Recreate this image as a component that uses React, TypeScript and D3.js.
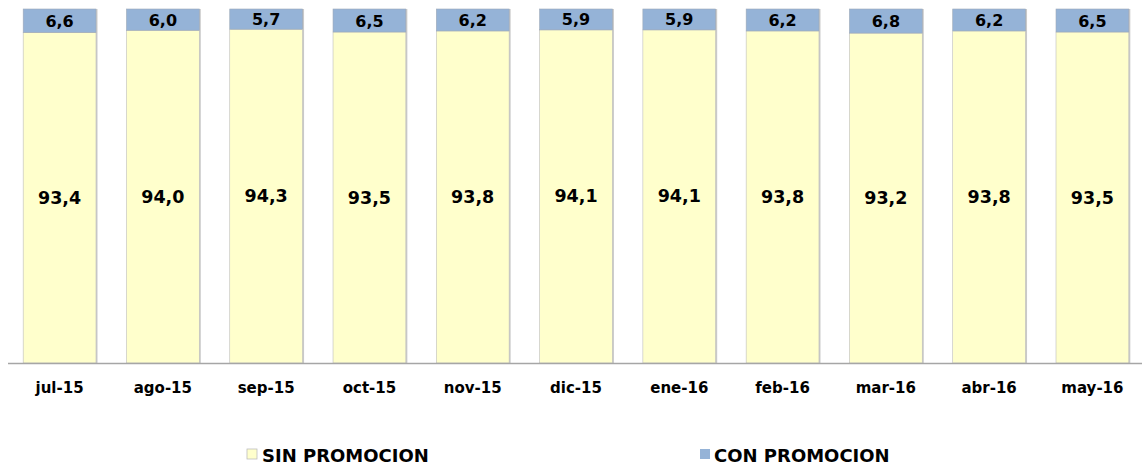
import React from "react";
import * as d3 from "d3";

const categories = ["jul-15","ago-15","sep-15","oct-15","nov-15","dic-15","ene-16","feb-16","mar-16","abr-16","may-16"];
const sinPromocion = [93.4, 94.0, 94.3, 93.5, 93.8, 94.1, 94.1, 93.8, 93.2, 93.8, 93.5];
const conPromocion = [6.6, 6.0, 5.7, 6.5, 6.2, 5.9, 5.9, 6.2, 6.8, 6.2, 6.5];
const seriesNames = ["SIN PROMOCION", "CON PROMOCION"];
const colors = ["#FFFFCC", "#95B3D7"];

const W = 1142, H = 466;
const font = "'DejaVu Sans', Verdana, sans-serif";
const fmt = (v: number) => v.toFixed(1).replace(".", ",");

export default function App() {
  const x = d3.scaleBand<string>().domain(categories).range([8, 1144]).paddingInner(0.295).paddingOuter(0.147);
  const y = d3.scaleLinear().domain([0, 100]).range([363, 9]);
  const bw = x.bandwidth();
  return (
    <svg width={W} height={H} style={{ position: "absolute", left: 0, top: 0 }}>
      {categories.map((c, i) => {
        const x0 = x(c)!;
        const s = sinPromocion[i];
        const p = conPromocion[i];
        return (
          <g key={c}>
            <rect x={x0 + 1.5} y={y(s + p)} width={bw} height={y(0) - y(s + p)} fill="#C9C9C9" />
            <rect x={x0} y={y(s)} width={bw} height={y(0) - y(s)} fill={colors[0]} stroke="#BDBDBD" strokeWidth={0.6} />
            <rect x={x0} y={y(s + p)} width={bw} height={y(s) - y(s + p)} fill={colors[1]} stroke="#9DA9B8" strokeWidth={0.6} />
            <text x={x0 + bw / 2} y={(y(s) + y(0)) / 2 + 6} textAnchor="middle" fontFamily={font} fontWeight="bold" fontSize={17.5} fill="#000">{fmt(s)}</text>
            <text x={x0 + bw / 2} y={(y(s) + y(s + p)) / 2 + 6} textAnchor="middle" fontFamily={font} fontWeight="bold" fontSize={16} fill="#000">{fmt(p)}</text>
            <text x={x0 + bw / 2} y={393} textAnchor="middle" fontFamily={font} fontWeight="bold" fontSize={15} fill="#000">{c}</text>
          </g>
        );
      })}
      <line x1={8} x2={1142} y1={363.5} y2={363.5} stroke="#A6A6A6" strokeWidth={1.5} />
      {[{ x: 247, t: 262 }, { x: 700, t: 714 }].map((l, i) => (
        <g key={i}>
          <rect x={l.x} y={449} width={10} height={10} fill={colors[i]} stroke={i === 0 ? "#BDBDBD" : "none"} strokeWidth={0.8} />
          <text x={l.t} y={462} fontFamily={font} fontWeight="bold" fontSize={18} fill="#000">{seriesNames[i]}</text>
        </g>
      ))}
    </svg>
  );
}
